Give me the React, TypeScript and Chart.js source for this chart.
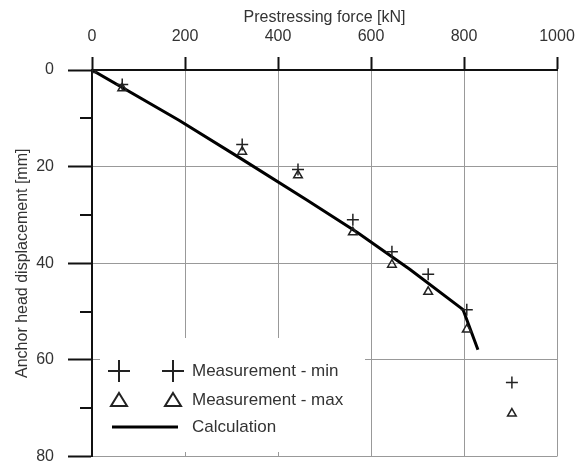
import React, { useEffect, useRef } from "react";
import { Chart, registerables } from "chart.js";

Chart.register(...registerables);

const measuredForce = [0, 65, 323, 443, 561, 645, 723, 806, 903];
const measuredMin = [0, 3.0, 15.4, 20.6, 31.0, 37.6, 42.3, 49.6, 64.7];
const measuredMax = [0, 3.8, 16.9, 21.8, 33.6, 40.3, 45.9, 53.7, 71.1];
const calcForce = [0, 187, 323, 462, 570, 684, 798, 830];
const calcDisp = [0, 10.4, 18.5, 26.9, 33.6, 41.3, 49.6, 57.9];
const minorYTicks = [10, 30, 50, 70];
const legendLabels = ["Measurement - min", "Measurement - max", "Calculation"];

const FONT = "'Liberation Sans', Arial, sans-serif";
const TEXT = "#333";

const extras = {
  id: "extras",
  beforeDatasetsDraw(chart: any) {
    const { ctx, chartArea, scales } = chart;
    const y = scales.y;
    ctx.save();
    // minor ticks
    ctx.strokeStyle = "#111";
    ctx.lineWidth = 2;
    minorYTicks.forEach((v) => {
      const py = Math.round(y.getPixelForValue(v));
      ctx.beginPath();
      ctx.moveTo(chartArea.left - 12, py);
      ctx.lineTo(chartArea.left, py);
      ctx.stroke();
    });
    // legend box
    const bx = chartArea.left + 8;
    const by = 338;
    ctx.fillStyle = "#fff";
    ctx.fillRect(bx, by, 265, 114);
    const rows = [371, 400, 427];
    const m1 = 119;
    const m2 = 173;
    ctx.strokeStyle = "#222";
    ctx.lineWidth = 2;
    [m1, m2].forEach((mx) => {
      ctx.beginPath();
      ctx.moveTo(mx - 11, rows[0]);
      ctx.lineTo(mx + 11, rows[0]);
      ctx.moveTo(mx, rows[0] - 11);
      ctx.lineTo(mx, rows[0] + 11);
      ctx.stroke();
    });
    [m1, m2].forEach((mx) => {
      ctx.beginPath();
      ctx.moveTo(mx, rows[1] - 7);
      ctx.lineTo(mx + 8, rows[1] + 6);
      ctx.lineTo(mx - 8, rows[1] + 6);
      ctx.closePath();
      ctx.stroke();
    });
    ctx.lineWidth = 3;
    ctx.strokeStyle = "#000";
    ctx.beginPath();
    ctx.moveTo(112, rows[2]);
    ctx.lineTo(178, rows[2]);
    ctx.stroke();
    ctx.fillStyle = TEXT;
    ctx.font = `17px ${FONT}`;
    ctx.textBaseline = "middle";
    ctx.textAlign = "left";
    legendLabels.forEach((t, i) => ctx.fillText(t, 192, rows[i]));
    ctx.restore();
  },
};

export default function App() {
  const ref = useRef<HTMLCanvasElement>(null);
  useEffect(() => {
    if (!ref.current) return;
    const chart = new Chart(ref.current, {
      type: "scatter",
      data: {
        datasets: [
          {
            label: "Calculation",
            data: calcForce.map((x, i) => ({ x, y: calcDisp[i] })),
            showLine: true,
            borderColor: "#000",
            borderWidth: 3,
            pointRadius: 0,
            order: 3,
          },
          {
            label: "Measurement - min",
            data: measuredForce.map((x, i) => ({ x, y: measuredMin[i] })),
            pointStyle: "cross",
            pointRadius: 6,
            borderColor: "#222",
            backgroundColor: "#222",
            pointBorderWidth: 1.5,
            order: 1,
          },
          {
            label: "Measurement - max",
            data: measuredForce.map((x, i) => ({ x, y: measuredMax[i] })),
            pointStyle: "triangle",
            pointRadius: 5,
            borderColor: "#222",
            backgroundColor: "rgba(0,0,0,0)",
            pointBorderWidth: 1.5,
            order: 2,
          },
        ],
      },
      options: {
        animation: false,
        responsive: false,
        maintainAspectRatio: false,
        layout: { padding: { left: 0, right: 21, top: 0, bottom: 7 } },
        plugins: { legend: { display: false }, tooltip: { enabled: false } },
        scales: {
          x: {
            type: "linear",
            position: "top",
            min: 0,
            max: 1000,
            ticks: {
              stepSize: 200,
              color: TEXT,
              font: { family: FONT, size: 16 },
              padding: 11,
              maxRotation: 0,
              callback: (v: any) => String(v),
            },
            grid: {
              color: "#999",
              lineWidth: 1,
              tickLength: 13,
              tickColor: "#111",
              tickWidth: 2,
            },
            border: { color: "#111", width: 2 },
            title: {
              display: true,
              text: "Prestressing force [kN]",
              color: TEXT,
              font: { family: FONT, size: 16 },
              padding: { top: 8, bottom: 0 },
            },
            afterFit: (s: any) => {
              s.height = 70;
              s.paddingLeft = 0;
              s.paddingRight = 0;
            },
          },
          y: {
            type: "linear",
            reverse: true,
            min: 0,
            max: 80,
            ticks: {
              stepSize: 20,
              color: TEXT,
              font: { family: FONT, size: 16 },
              padding: 14,
            },
            grid: {
              color: "#999",
              lineWidth: 1,
              tickLength: 24,
              tickColor: "#111",
              tickWidth: 2,
            },
            border: { color: "#111", width: 2 },
            title: {
              display: true,
              text: "Anchor head displacement [mm]",
              color: TEXT,
              font: { family: FONT, size: 16 },
              padding: { top: 13, bottom: 0 },
            },
            afterFit: (s: any) => {
              s.width = 92;
              s.paddingTop = 0;
              s.paddingBottom = 0;
            },
          },
        },
      },
      plugins: [extras],
    });
    return () => chart.destroy();
  }, []);
  return (
    <div style={{ position: "fixed", left: 0, top: 0, width: 578, height: 464, background: "#fff" }}>
      <canvas ref={ref} width={578} height={464} style={{ display: "block", width: 578, height: 464 }} />
    </div>
  );
}
